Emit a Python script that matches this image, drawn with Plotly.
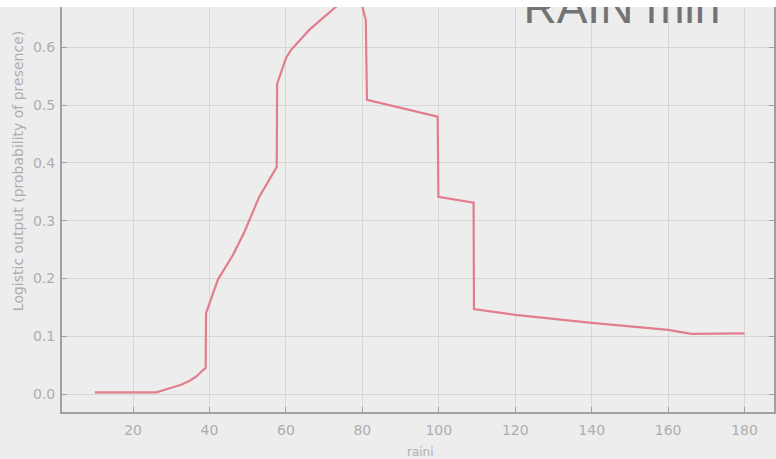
import plotly.graph_objects as go

# Response curve: logistic output vs. raini
rain_x = [10.0, 26.1, 29.6, 32.6, 34.8, 36.5, 38.4, 39.0, 39.1, 40.9, 42.2, 46.1, 49.1,
          53.0, 57.6, 57.7, 60.0, 61.3, 66.1, 73.1, 79.0, 80.0, 80.9, 81.2,
          99.7, 99.9, 109.1, 109.2, 120.0, 140.0, 160.0, 166.1, 180.0]
logistic_y = [0.003, 0.003, 0.010, 0.016, 0.023, 0.030, 0.042, 0.045, 0.140, 0.174, 0.198, 0.240, 0.280,
              0.341, 0.393, 0.537, 0.581, 0.595, 0.630, 0.670, 0.695, 0.670, 0.647, 0.509,
              0.480, 0.341, 0.331, 0.147, 0.137, 0.123, 0.111, 0.104, 0.105]

x_ticks = [20, 40, 60, 80, 100, 120, 140, 160, 180]
y_ticks = [0.0, 0.1, 0.2, 0.3, 0.4, 0.5, 0.6]
y_tick_text = ["0.0", "0.1", "0.2", "0.3", "0.4", "0.5", "0.6"]

BG = "#ededed"
GRID = "#d6d6d6"
AXIS = "#a0a0a0"
LABEL = "#adadad"

fig = go.Figure()

fig.add_trace(go.Scatter(
    x=rain_x, y=logistic_y, mode="lines",
    line=dict(color="#e27d8d", width=2.2),
    hoverinfo="skip", cliponaxis=True,
))

# Large heading inside the plotting area, clipped at its top edge
fig.add_trace(go.Scatter(
    x=[147.9], y=[0.661], mode="text", text=["RAIN min"],
    textposition="middle center",
    textfont=dict(family="Liberation Sans, Arial, sans-serif", size=46, color="#737373"),
    hoverinfo="skip", cliponaxis=True,
))

fig.update_layout(
    width=776, height=459,
    margin=dict(l=62, r=0, t=7, b=47),
    paper_bgcolor=BG, plot_bgcolor=BG,
    showlegend=False,
    font=dict(family="DejaVu Sans, sans-serif", color=LABEL),
    xaxis=dict(
        range=[1.41, 187.7], tickvals=x_ticks,
        showgrid=True, gridcolor=GRID, gridwidth=1,
        showline=True, linecolor=AXIS, linewidth=2,
        ticks="inside", ticklen=5, tickcolor=AXIS,
        tickfont=dict(size=14, color=LABEL),
        zeroline=False, ticklabelstandoff=4,
    ),
    yaxis=dict(
        range=[-0.0311, 0.6696], tickvals=y_ticks, ticktext=y_tick_text,
        showgrid=True, gridcolor=GRID, gridwidth=1,
        showline=True, linecolor=AXIS, linewidth=2, mirror="ticks",
        ticks="inside", ticklen=5, tickcolor=AXIS,
        tickfont=dict(size=14, color=LABEL),
        zeroline=False, ticklabelstandoff=2,
    ),
    shapes=[
        # white band along the top edge
        dict(type="rect", xref="paper", yref="paper", x0=-0.2, x1=1.2, y0=1.0, y1=1.1,
             fillcolor="white", line=dict(width=0), layer="above"),
    ],
    annotations=[
        dict(text="raini", xref="paper", yref="paper", x=0.503, y=-0.0988,
             xanchor="center", yanchor="middle", showarrow=False,
             font=dict(size=12, color=LABEL)),
        dict(text="Logistic output (probability of presence)", xref="paper", yref="paper",
             x=-0.0616, y=0.595, xanchor="center", yanchor="middle", textangle=-90,
             showarrow=False, font=dict(size=14, color=LABEL)),
    ],
)

fig.write_html("out.html")
